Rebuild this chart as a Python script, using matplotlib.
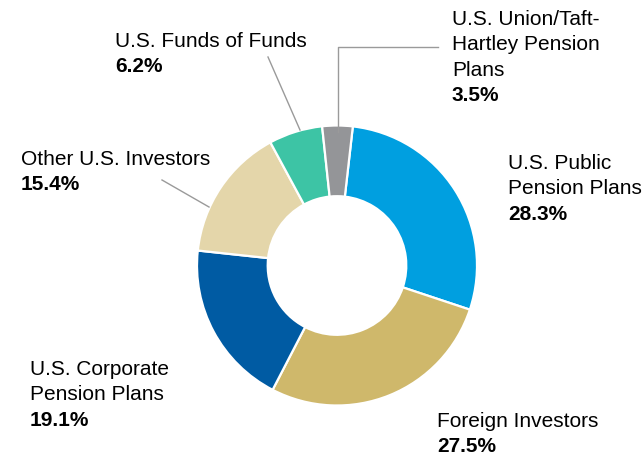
import matplotlib.pyplot as plt

# investor breakdown, clockwise from the top
names = [
    "U.S. Public\nPension Plans",
    "Foreign Investors",
    "U.S. Corporate\nPension Plans",
    "Other U.S. Investors",
    "U.S. Funds of Funds",
    "U.S. Union/Taft-\nHartley Pension\nPlans",
]
shares = [28.3, 27.5, 19.1, 15.4, 6.2, 3.5]
colors = ["#009fe0", "#cfb86b", "#005ba3", "#e4d6aa", "#3dc4a5", "#949598"]

# label anchors in pixels (x left, baseline of first line, from top)
label_pos = [(508, 169), (437, 427), (30, 375), (21, 165), (115, 47), (452, 25)]
LINE_STEP = 25.3

W, H = 644, 458
plt.rcParams['font.family'] = ['Liberation Sans', 'DejaVu Sans']

fig = plt.figure(figsize=(W / 100, H / 100), dpi=100)
ax = fig.add_axes([0, 0, 1, 1])

cx, cy, R = 337, H - 265.5, 140
ax.pie(shares, colors=colors, startangle=83.5, counterclock=False,
       center=(cx, cy), radius=R,
       wedgeprops=dict(width=R * 0.505, edgecolor="white", linewidth=1.6))

ax.set_xlim(0, W)
ax.set_ylim(0, H)
ax.set_aspect("equal")
ax.axis("off")

for name, share, (x, y) in zip(names, shares, label_pos):
    lines = name.split("\n")
    for i, line in enumerate(lines):
        ax.text(x, H - (y + i * LINE_STEP), line, fontsize=15,
                va="baseline", ha="left", color="black")
    ax.text(x, H - (y + len(lines) * LINE_STEP), f"{share:.1f}%", fontsize=15,
            fontweight="bold", va="baseline", ha="left", color="black")

# leader lines for the small slices
lc = "#9a9a9a"
ax.plot([338, 338, 438], [H - 132, H - 47, H - 47], color=lc, lw=1)
ax.plot([268, 300], [H - 57, H - 130], color=lc, lw=1)
ax.plot([162, 209], [H - 180, H - 207], color=lc, lw=1)

fig.savefig("out.png", dpi=100)
